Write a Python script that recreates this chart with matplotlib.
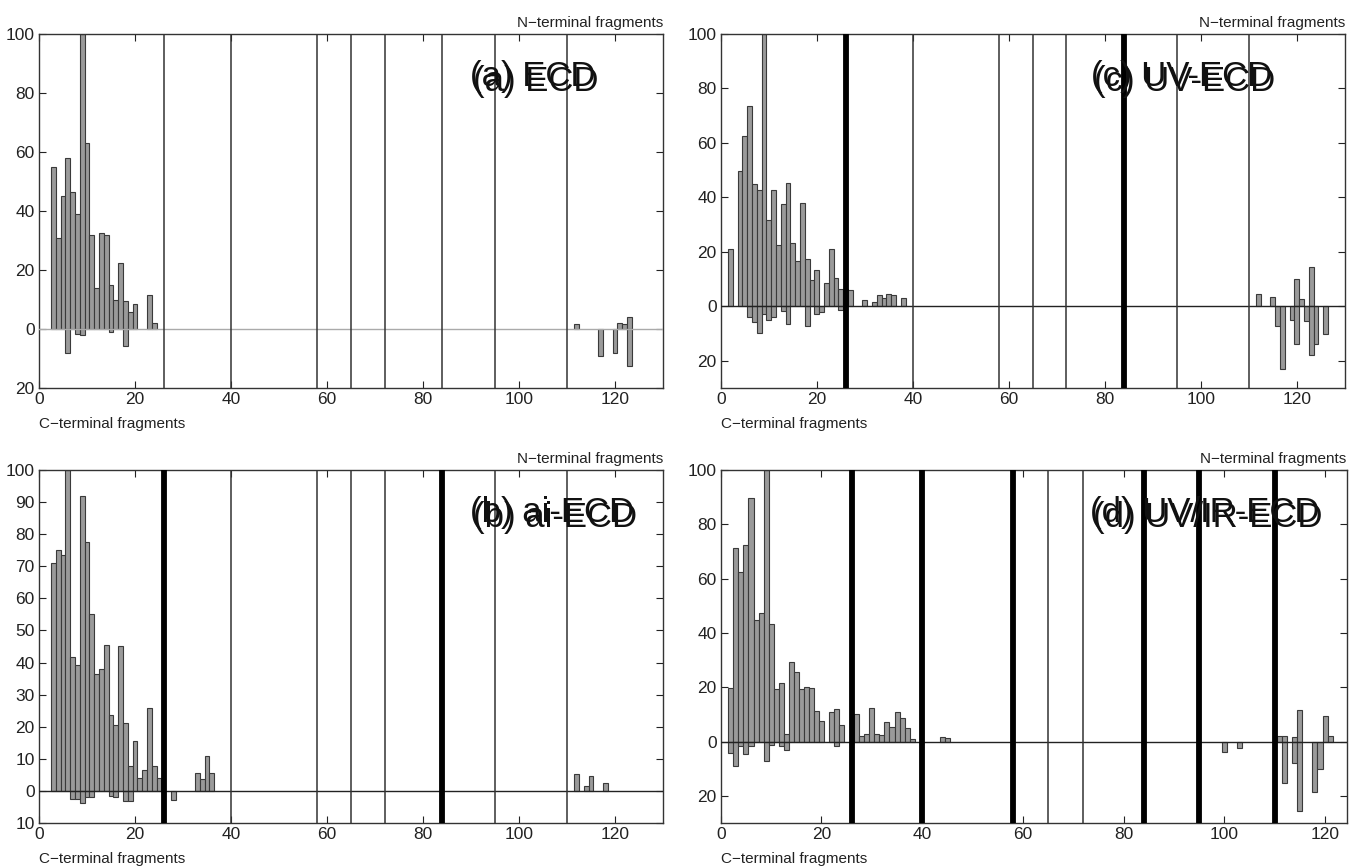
import matplotlib
matplotlib.use("Agg")
import matplotlib.pyplot as plt
import matplotlib.transforms as mtransforms

plt.rcParams['font.family'] = ['Liberation Sans', 'DejaVu Sans']

# cleavage sites (residue numbers) drawn as vertical lines
line_pos = [26, 40, 58, 65, 72, 84, 95, 110]

# (a) ECD
a_n_res = [3, 4, 5, 6, 7, 8, 9, 10, 11, 12, 13, 14, 15, 16, 17, 18, 19, 20, 23, 24,
           112, 121, 122, 123]
a_n_val = [55, 31, 45, 58, 46.5, 39, 100, 63, 32, 14, 32.5, 31.8, 15, 9.8, 22.5, 9.4, 5.6, 8.3, 11.5, 2,
           1.6, 2, 1.8, 4]
a_c_res = [6, 8, 9, 15, 18, 117, 120, 123]
a_c_val = [8.1, 1.7, 2, 1, 5.9, 9.2, 8.2, 12.4]
a_thick = []

# (b) ai-ECD
b_n_res = [3, 4, 5, 6, 7, 8, 9, 10, 11, 12, 13, 14, 15, 16, 17, 18, 19, 20, 21, 22, 23, 24, 25,
           33, 34, 35, 36, 112, 114, 115, 118]
b_n_val = [71, 75, 73.5, 100, 41.6, 39.3, 92, 77.5, 55.1, 36.3, 38.1, 45.4, 23.7, 20.4, 45, 21.1,
           7.8, 15.6, 3.9, 6.5, 25.8, 7.6, 3.9,
           5.5, 3.7, 10.9, 5.5, 5.3, 1.4, 4.5, 2.4]
b_c_res = [7, 8, 9, 10, 11, 15, 16, 18, 19, 28]
b_c_val = [2.5, 2.5, 3.8, 1.8, 1.8, 1.6, 2, 3.1, 3.3, 2.8]
b_thick = [26, 84]

# (c) UV-ECD
c_n_res = [2, 4, 5, 6, 7, 8, 9, 10, 11, 12, 13, 14, 15, 16, 17, 18, 19, 20,
           22, 23, 24, 25, 26, 27, 30, 32, 33, 34, 35, 36, 38,
           112, 115, 120, 121, 123]
c_n_val = [21, 49.7, 62.5, 73.7, 44.8, 42.6, 100, 31.7, 42.7, 22.6, 37.6, 45.2, 23.2, 16.7, 37.8,
           17.3, 9.8, 13.4,
           8.4, 21.2, 10.3, 6.3, 6.3, 6, 2.3, 1.7, 4.3, 2.9, 4.6, 4, 3.2,
           4.6, 3.5, 10, 2.7, 14.3]
c_c_res = [6, 7, 8, 9, 10, 11, 13, 14, 18, 20, 21, 25,
           116, 117, 119, 120, 122, 123, 124, 126]
c_c_val = [4, 5.9, 9.9, 2.8, 4.9, 4, 1.8, 6.5, 7.1, 3, 2.2, 1.3,
           7.3, 23.2, 4.9, 14, 5.5, 18, 13.8, 10.1]
c_thick = [26, 84]

# (d) UV/IR-ECD
d_n_res = [2, 3, 4, 5, 6, 7, 8, 9, 10, 11, 12, 13, 14, 15, 16, 17, 18, 19, 20,
           22, 23, 24, 27, 28, 29, 30, 31, 32, 33, 34, 35, 36, 37, 38, 44, 45,
           111, 112, 114, 115, 120, 121]
d_n_val = [19.6, 71.2, 62.6, 72.3, 89.6, 44.8, 47.2, 100, 43.2, 19.4, 21.7, 2.7, 29.1, 25.5,
           19.5, 20, 19.8, 11.4, 7.4,
           10.7, 12.1, 6, 10, 2.1, 2.8, 12.4, 2.8, 2.5, 7.1, 5.2, 11, 8.5, 4.9, 1, 1.5, 1.2,
           2.2, 2.2, 1.5, 11.7, 9.4, 2.2]
d_c_res = [2, 3, 4, 5, 6, 9, 10, 12, 13, 23, 100, 103, 112, 114, 115, 118, 119]
d_c_val = [4.3, 9.2, 1.6, 4.7, 1.6, 7, 1.3, 1.8, 3.1, 1.8, 3.9, 2.5, 15.3, 8, 25.5, 18.7, 10.2]
d_thick = [26, 40, 58, 84, 95, 110]

bar_face = '#9a9a9a'
bar_edge = '#3a3a3a'
dark = '#222222'


def draw_panel(ax, n_res, n_val, c_res, c_val, thick, label, lx,
               xmax, ymin, ystep, zero_col):
    ax.bar(n_res, n_val, width=1.0, color=bar_face, edgecolor=bar_edge, linewidth=0.8, zorder=2)
    ax.bar(c_res, [-v for v in c_val], width=1.0, color=bar_face, edgecolor=bar_edge,
           linewidth=0.8, zorder=2)
    for p in line_pos:
        if p in thick:
            ax.axvline(p, color='black', lw=4.2, zorder=4)
        else:
            ax.axvline(p, color='#333333', lw=1.1, zorder=4)
    ax.axhline(0, color=zero_col, lw=1.0, zorder=3)
    ax.set_xlim(0, xmax)
    ax.set_ylim(ymin, 100)
    ax.set_xticks(range(0, 121, 20))
    yt = list(range(-20 if ymin <= -20 else ymin, 101, ystep))
    ax.set_yticks(yt)
    ax.set_yticklabels([str(abs(v)) for v in yt])
    ax.tick_params(direction='in', top=True, right=True, labelsize=12.5,
                   length=5, width=0.8, colors=dark, pad=3)
    for s in ax.spines.values():
        s.set_color('#333333')
        s.set_linewidth(1.0)
    ax.text(1.0, 1.012, 'N\u2212terminal fragments', transform=ax.transAxes,
            ha='right', va='bottom', fontsize=11, color=dark)
    ax.text(0.0, -0.082, 'C\u2212terminal fragments', transform=ax.transAxes,
            ha='left', va='top', fontsize=11, color=dark)
    # the label appears printed twice, slightly shifted
    off = mtransforms.offset_copy(ax.transAxes, fig=ax.figure, x=3, y=-5, units='dots')
    ax.text(lx, 0.88, label, transform=ax.transAxes, fontsize=25, ha='left',
            va='center', color='#111111', zorder=6)
    ax.text(lx, 0.88, label, transform=off, fontsize=25, ha='left',
            va='center', color='#111111', zorder=6)


fig = plt.figure(figsize=(13.49, 8.67), dpi=100)
ax_a = fig.add_axes([0.0289, 0.5525, 0.4626, 0.4083])
ax_c = fig.add_axes([0.5343, 0.5525, 0.4626, 0.4083])
ax_b = fig.add_axes([0.0289, 0.0508, 0.4626, 0.4071])
ax_d = fig.add_axes([0.5343, 0.0508, 0.4640, 0.4071])

draw_panel(ax_a, a_n_res, a_n_val, a_c_res, a_c_val, a_thick, '(a) ECD', 0.69,
           130, -20, 20, '#aaaaaa')
draw_panel(ax_b, b_n_res, b_n_val, b_c_res, b_c_val, b_thick, '(b) ai-ECD', 0.69,
           130, -10, 10, '#222222')
draw_panel(ax_c, c_n_res, c_n_val, c_c_res, c_c_val, c_thick, '(c) UV-ECD', 0.593,
           130, -30, 20, '#222222')
draw_panel(ax_d, d_n_res, d_n_val, d_c_res, d_c_val, d_thick, '(d) UV/IR-ECD', 0.59,
           124.3, -30, 20, '#222222')

fig.savefig('out.png', dpi=100)
